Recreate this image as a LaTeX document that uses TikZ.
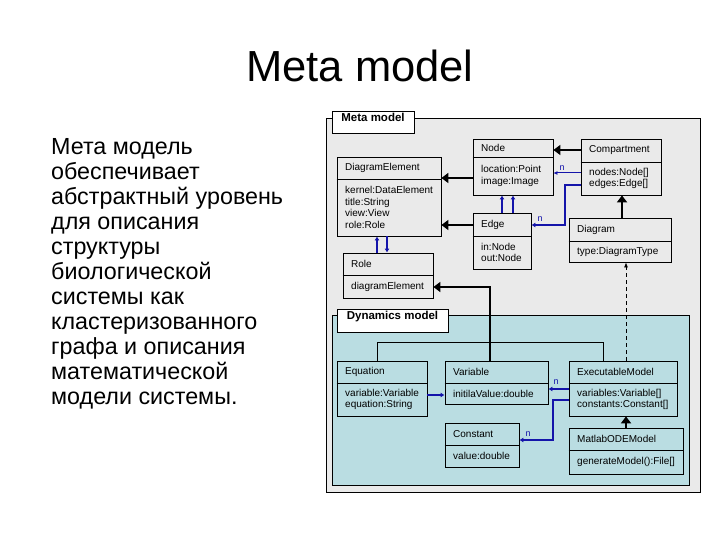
\documentclass[tikz,border=0pt]{standalone}
\usepackage{fontspec}
\setmainfont{Liberation Sans}
\usepackage{tikz}
\usetikzlibrary{arrows.meta,fit}

\definecolor{metagray}{RGB}{234,234,234}
\definecolor{dynblue}{RGB}{186,221,226}
\definecolor{linkblue}{RGB}{20,20,170}

\tikzset{
  metabox/.style={draw, line width=0.8pt, fill=metagray, inner sep=0pt},
  dynbox/.style={draw, line width=0.8pt, fill=dynblue, inner sep=0pt},
  tagbox/.style={draw, line width=0.8pt, fill=white, inner sep=0pt,
    font=\fontsize{11.5}{12}\selectfont\bfseries},
  clsbox/.style={draw, line width=0.8pt, inner sep=0pt},
  clstext/.style={align=left, inner xsep=8pt, inner ysep=0pt,
    font=\fontsize{10}{11.7}\selectfont},
  inherit/.style={line width=2.7pt, -{Triangle[width=10pt,length=7pt]}},
  bluelink/.style={draw=linkblue, line width=2pt, -{Latex[length=4pt,width=5pt]}},
  bluemid/.style={draw=linkblue, line width=1.5pt, -{Latex[length=4pt,width=5pt]}},
  bluethin/.style={draw=linkblue, line width=1pt, -{Latex[length=4pt,width=4pt]}},
  depend/.style={line width=0.8pt, dash pattern=on 4pt off 3pt,
    -{Latex[length=5pt,width=4pt]}},
  plainline/.style={line width=0.8pt},
  mult/.style={text=linkblue, inner sep=0pt, font=\fontsize{9}{9}\selectfont}
}

% class box: name, x1, y1, x2, y2, divider y, header, attributes
\newcommand{\umlclass}[8]{%
  \node[clsbox, fit={(#2,#3) (#4,#5)}] (#1) {};
  \draw[plainline] (#1.west |- 0,#6) -- (#1.east |- 0,#6);
  \node[clstext, anchor=west] at (#2,{(#3+#6)/2}) {#7};
  \node[clstext, anchor=west] at (#2,{(#6+#5)/2}) {#8};
}

\begin{document}
\begin{tikzpicture}[x=1pt,y=-1pt]
\useasboundingbox (0,0) rectangle (720,540);

% title and description
\node[font=\fontsize{43.5}{43.5}\selectfont, anchor=base] (title) at (360,82) {Meta model};
\node[font=\fontsize{23.3}{25}\selectfont, align=left, anchor=north west, inner sep=0pt]
  (descr) at (51,138) {Мета модель\\обеспечивает\\абстрактный уровень\\для описания\\структуры\\биологической\\системы как\\кластеризованного\\графа и описания\\математической\\модели системы.};

% packages
\node[metabox, fit={(326,118) (700,492)}] (meta) {};
\node[dynbox, fit={(332,315) (689,485)}] (dyn) {};

% meta model classes
\umlclass{diagel}{337}{157}{441}{236}{179}{DiagramElement}{kernel:DataElement\\title:String\\view:View\\role:Role}
\umlclass{nodecls}{473}{139}{553}{195}{157}{Node}{location:Point\\image:Image}
\umlclass{compart}{581}{139}{661}{195}{162}{Compartment}{nodes:Node[]\\edges:Edge[]}
\umlclass{edgecls}{473}{213}{531}{269}{236}{Edge}{in:Node\\out:Node}
\umlclass{diagram}{569}{218}{671}{262}{241}{Diagram}{type:DiagramType}
\umlclass{role}{343}{253}{433}{298}{275}{Role}{diagramElement}

% dynamics model classes
\umlclass{equation}{337}{361}{427}{416}{383}{Equation}{variable:Variable\\equation:String}
\umlclass{variable}{445}{361}{548}{404}{383}{Variable}{initilaValue:double}
\umlclass{constant}{445}{423}{519}{467}{445}{Constant}{value:double}
\umlclass{execmodel}{569}{361}{677}{416}{383}{ExecutableModel}{variables:Variable[]\\constants:Constant[]}
\umlclass{matlab}{569}{428}{683}{474}{450}{MatlabODEModel}{generateModel():File[]}

%% inheritance
\draw[inherit] (nodecls.west |- 0,178) -- (diagel.east |- 0,178);
\draw[inherit] (edgecls.west |- 0,225) -- (diagel.east |- 0,225);
\draw[inherit] (compart.west |- 0,150) -- (nodecls.east |- 0,150);
\draw[inherit] (diagram.north -| 622,0) -- (compart.south -| 622,0);
\draw[inherit] (matlab.north -| 626,0) -- (execmodel.south -| 626,0);
\draw[inherit] (variable.north -| 490,0) |- (role.east |- 0,287);

%% associations
\draw[bluethin] (compart.west |- 0,173) -- (nodecls.east |- 0,173);
\draw[bluelink] (compart.west |- 0,185) -- ++(-16,0) |- (edgecls.east |- 0,225);
\draw[bluelink] (edgecls.north -| 502,0) -- (nodecls.south -| 502,0);
\draw[bluelink] (edgecls.north -| 513,0) -- (nodecls.south -| 513,0);
\draw[bluelink] (role.north -| 377,0) -- (diagel.south -| 377,0);
\draw[bluelink] (diagel.south -| 387,0) -- (role.north -| 387,0);
\draw[bluelink] (equation.east |- 0,395) -- (variable.west |- 0,395);
\draw[bluemid] (execmodel.west |- 0,389) -- (variable.east |- 0,389);
\draw[bluelink] (execmodel.west |- 0,400) -- ++(-16,0) |- (constant.east |- 0,440);
\draw[plainline] (equation.north -| 377,0) -- ++(0,-18) -| (execmodel.north -| 603,0);
\draw[depend] (execmodel.north -| 626,0) -- (diagram.south -| 626,0);

% multiplicities
\node[mult] (n1) at (562,168) {n};
\node[mult] (n2) at (540,219) {n};
\node[mult] (n3) at (556,382) {n};
\node[mult] (n4) at (528,434) {n};

% package tags
\node[tagbox, fit={(332,111) (414,133)}] (metatag) {Meta model};
\node[tagbox, fit={(337,309) (448,332)}] (dyntag) {Dynamics model};
\end{tikzpicture}
\end{document}
